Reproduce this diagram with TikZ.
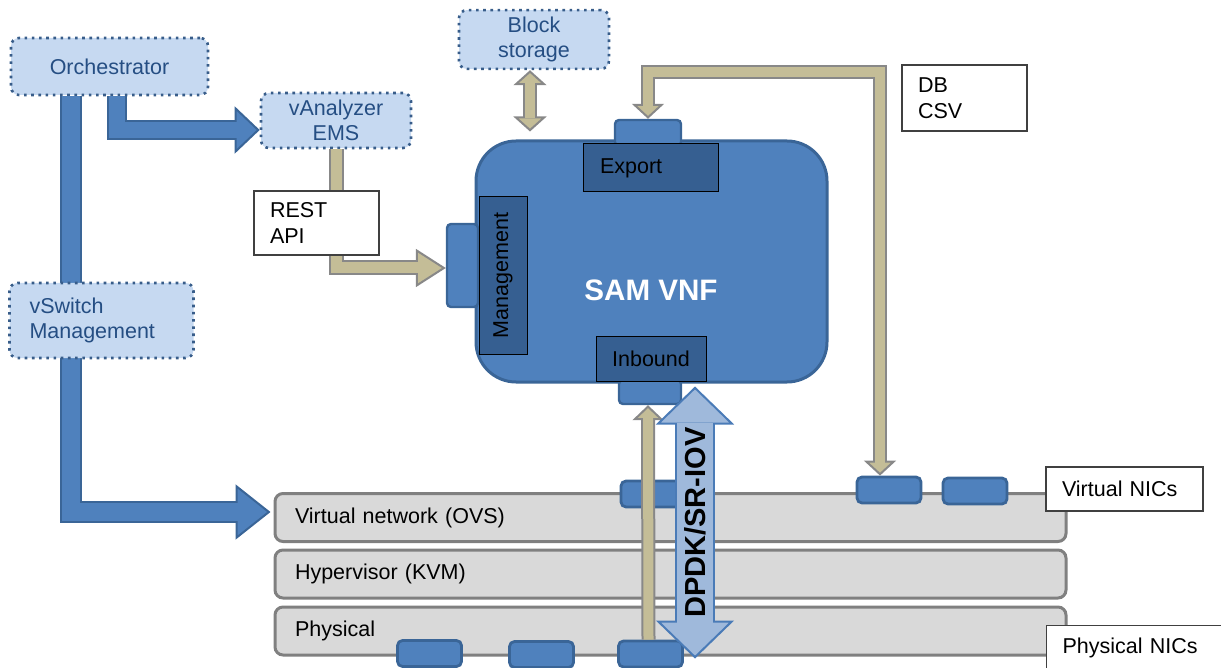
\documentclass[tikz,border=0pt]{standalone}
\usepackage{fontspec}
\setmainfont{Liberation Sans}
\usetikzlibrary{arrows.meta}
\definecolor{dotblue}{HTML}{385D8A}
\definecolor{lightblue}{HTML}{C6D9F1}
\definecolor{textblue}{HTML}{254E83}
\definecolor{vnfblue}{HTML}{4F81BD}
\definecolor{vnfline}{HTML}{3A6597}
\definecolor{portblue}{HTML}{365F91}
\definecolor{layerfill}{HTML}{D9D9D9}
\definecolor{layerline}{HTML}{808080}
\definecolor{tanfill}{HTML}{C4BD97}
\definecolor{tanline}{HTML}{888888}
\definecolor{dpdkfill}{HTML}{9FB9DB}
\definecolor{dpdkline}{HTML}{4A7BB7}

\begin{document}
\begin{tikzpicture}[
        x=0.5pt, y=-0.5pt,
        font=\fontsize{10.75pt}{12.75pt}\selectfont,
        mgmt/.style={draw=dotblue, fill=lightblue, text=textblue, line width=1.3pt,
          dash pattern=on 1.3pt off 2.3pt, rounded corners=4pt, align=center},
        note/.style={draw=black!75, fill=white, line width=0.6pt, align=left, inner xsep=8pt},
        hwlayer/.style={draw=layerline, fill=layerfill, line width=1.5pt, rounded corners=4pt,
          minimum width=395.5pt, minimum height=24pt, text width=375.5pt, inner xsep=10pt, align=left},
        vnftab/.style={draw=vnfline, fill=vnfblue, line width=1.2pt, rounded corners=2pt, inner sep=0pt},
        nic/.style={vnftab, minimum width=32pt, minimum height=13pt, line width=1.4pt, rounded corners=2.5pt},
        port/.style={draw=black, fill=portblue, line width=0.5pt},
        fat/.style n args={5}{draw=#1, line width=#2,
          >={Triangle[length=#3, width=#4, color=#1, fill=#5, line width=1pt]}},
        core/.style n args={3}{postaction={draw=#1, line width=#2, -, #3}}
        ]
        \useasboundingbox (0,0) rectangle (1221,668);

        % management side
        \node[mgmt, minimum width=98.5pt, minimum height=28.5pt] (orch) at (109.5,66.5) {Orchestrator};
        \node[mgmt, minimum width=75pt, minimum height=27.5pt] (vana) at (336,120.5) {vAnalyzer\\EMS};
        \node[mgmt, minimum width=75pt, minimum height=27.5pt] (blk) at (534,39.5) {Block\\storage};

        % platform layers
        \node[hwlayer] (vnet) at (670.5,517.5) {Virtual network (OVS)};
        \node[hwlayer] (hyp) at (670.5,574) {Hypervisor (KVM)};
        \node[hwlayer] (phys) at (670.5,631) {Physical};

        \draw[fat={vnfline}{10pt}{12.5pt}{23.5pt}{vnfblue}, ->, core={vnfblue}{8pt}{shorten >=11.5pt}]
              ([xshift=3.75pt]orch.south) |- ([yshift=-4.75pt]vana.west);
        \draw[fat={vnfline}{11pt}{17.5pt}{27.5pt}{vnfblue}, ->, core={vnfblue}{9pt}{shorten >=16.5pt}]
              ([xshift=-19.25pt]orch.south) |- ([xshift=-1.5pt,yshift=2.75pt]vnet.west);

        \node[mgmt, minimum width=92pt, minimum height=37.5pt, text width=72pt, inner xsep=10pt,
              align=left] (vsw) at (101.5,320.5) {vSwitch\\Management};

        % the VNF
        \node[draw=vnfline, fill=vnfblue, line width=1.5pt, rounded corners=20pt,
              minimum width=175.5pt, minimum height=120.5pt] (sam) at (651.5,261.5) {};
        \node[text=white, font=\fontsize{14.8pt}{17pt}\selectfont\bfseries] (samlbl) at (651,290) {SAM VNF};
        \node[vnftab, minimum width=33pt, minimum height=13pt] (etab) at (648,133) {};
        \node[vnftab, minimum width=15.5pt, minimum height=41.5pt] (mtab) at (462.5,265.5) {};
        \node[vnftab, minimum width=31pt, minimum height=12pt] (itab) at (650,392) {};
        \node[port, minimum width=67.5pt, minimum height=24pt, text width=50.5pt, inner xsep=8.5pt,
              align=left] (export) at (650.5,168) {Export};
        \node[port, rotate=90, minimum width=78.5pt, minimum height=24pt] (mgmtport) at (503,275.5) {Management};
        \node[port, minimum width=55pt, minimum height=22pt] (inbound) at (651,359) {Inbound};

        \draw[fat={tanline}{7.5pt}{15pt}{19pt}{tanfill}, ->, core={tanfill}{5.5pt}{shorten >=14pt}]
              (vana.south) |- ([yshift=-1.25pt]mtab.west);
        \node[note, minimum width=62.5pt, minimum height=32pt, text width=46.5pt] (rest) at (316.5,223) {REST\\API};

        \path (blk.south |- sam.north) ++(-2pt,4pt) coordinate (blkend);
        \draw[fat={tanline}{7pt}{7.5pt}{16.5pt}{tanfill}, <->,
              core={tanfill}{5pt}{shorten >=6.5pt, shorten <=6.5pt}]
              ([xshift=-2pt]blk.south) -- (blkend);

        % NICs
        \node[nic] (vnic1) at (653,494) {};
        \node[nic] (vnic2) at (889,490) {};
        \node[nic] (vnic3) at (975,491) {};
        \node[nic] (pnic1) at (429.5,653.5) {};
        \node[nic] (pnic2) at (541.5,654.5) {};
        \node[nic] (pnic3) at (650.5,654) {};
        \node[note, minimum width=62.5pt, minimum height=33pt, text width=46.5pt] (db) at (964.5,98) {DB\\CSV};
        \node[note, minimum width=78.5pt, minimum height=22pt, text width=62.5pt] (vniclbl) at (1124.5,489) {Virtual NICs};
        \node[note, anchor=north west, text width=78pt, inner ysep=6pt, text depth=10pt] (pniclbl) at (1046,625) {Physical NICs};

        \coordinate (dbcorner) at (880,72);
        \draw[fat={tanline}{7pt}{7.5pt}{16pt}{tanfill}, <->,
              core={tanfill}{5pt}{shorten >=6.5pt, shorten <=6.5pt}]
              (etab.north) |- (dbcorner) -- (dbcorner |- vnic2.north);

        \draw[fat={tanline}{7pt}{7.5pt}{15.5pt}{tanfill}, ->, core={tanfill}{5pt}{shorten >=6.5pt}]
              ([xshift=-1pt]pnic3.north) -- ([xshift=-1pt]itab.south);

        \path (sam.south) ++(21.75pt,-1.5pt) coordinate (dpdktop);
        \path (dpdktop |- phys.south) ++(0pt,-1pt) coordinate (dpdkbot);
        \draw[fat={dpdkline}{20pt}{19pt}{39pt}{dpdkfill}, <->,
              core={dpdkfill}{18pt}{shorten >=18pt, shorten <=18pt}]
              (dpdktop) -- (dpdkbot)
              node[midway, rotate=90, font=\fontsize{14.5pt}{17pt}\selectfont\bfseries] (dpdklbl) {DPDK/SR-IOV};
\end{tikzpicture}
\end{document}
